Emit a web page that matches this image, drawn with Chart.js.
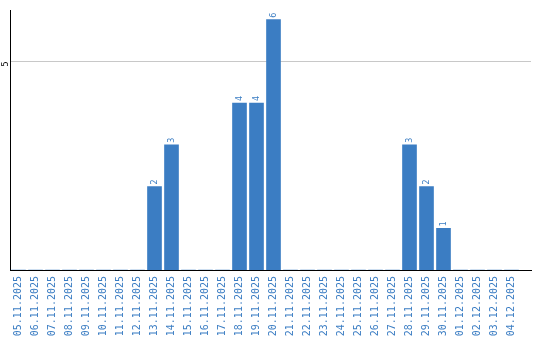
<!DOCTYPE html>
<html>
<head>
<meta charset="utf-8">
<script src="https://cdn.jsdelivr.net/npm/chart.js@4/dist/chart.umd.min.js"></script>
<style>
html,body{margin:0;padding:0;background:#fff;}
#wrap{width:540px;height:340px;position:relative;}
</style>
</head>
<body>
<div id="wrap"><canvas id="c" width="540" height="340"></canvas></div>
<script>
const dateLabels = ["05.11.2025","06.11.2025","07.11.2025","08.11.2025","09.11.2025","10.11.2025","11.11.2025","12.11.2025","13.11.2025","14.11.2025","15.11.2025","16.11.2025","17.11.2025","18.11.2025","19.11.2025","20.11.2025","21.11.2025","22.11.2025","23.11.2025","24.11.2025","25.11.2025","26.11.2025","27.11.2025","28.11.2025","29.11.2025","30.11.2025","01.12.2025","02.12.2025","03.12.2025","04.12.2025"];
const counts = [0,0,0,0,0,0,0,0,2,3,0,0,0,4,4,6,0,0,0,0,0,0,0,3,2,1,0,0,0,0];
const yTickValues = [5];

const BLUE = '#3b7dc3';

const valueLabels = {
  id: 'valueLabels',
  afterDatasetsDraw(chart) {
    const ctx = chart.ctx;
    const meta = chart.getDatasetMeta(0);
    ctx.save();
    ctx.fillStyle = BLUE;
    ctx.font = '8px "DejaVu Sans"';
    ctx.textAlign = 'left';
    ctx.textBaseline = 'middle';
    meta.data.forEach((bar, i) => {
      const v = counts[i];
      if (!v) return;
      ctx.save();
      ctx.translate(bar.x, bar.y - 2);
      ctx.rotate(-Math.PI / 2);
      ctx.fillText(String(v), 0, 0);
      ctx.restore();
    });
    ctx.restore();
  }
};

new Chart(document.getElementById('c'), {
  type: 'bar',
  data: {
    datasets: [{
      data: counts.map((v, i) => ({ x: i, y: v })),
      backgroundColor: BLUE,
      borderWidth: 0,
      barThickness: 14
    }]
  },
  options: {
    responsive: false,
    animation: false,
    layout: { padding: { top: 10.5, right: 9, left: 0, bottom: 0 } },
    plugins: { legend: { display: false }, tooltip: { enabled: false } },
    scales: {
      x: {
        type: 'linear',
        offset: false,
        min: -0.5,
        max: 30.147,
        grid: { display: false, drawTicks: false },
        border: { display: true, color: '#000', width: 1 },
        afterBuildTicks: (scale) => { scale.ticks = dateLabels.map((_, i) => ({ value: i })); },
        afterFit: (scale) => { scale.height = 70; scale.paddingLeft = 0; scale.paddingRight = 0; },
        ticks: {
          autoSkip: false,
          minRotation: 90,
          maxRotation: 90,
          padding: 6,
          color: BLUE,
          font: { family: '"DejaVu Sans Mono"', size: 10 },
          callback: (v) => dateLabels[v] !== undefined ? dateLabels[v] : ''
        }
      },
      y: {
        min: 0,
        max: 6.22,
        afterBuildTicks: (scale) => { scale.ticks = yTickValues.map(v => ({ value: v })); },
        afterFit: (scale) => { scale.width = 10; scale.paddingTop = 0; scale.paddingBottom = 0; },
        grid: { color: '#c8c8c8', drawTicks: false, lineWidth: 1 },
        border: { display: true, color: '#000', width: 1 },
        ticks: {
          minRotation: 90,
          maxRotation: 90,
          padding: 4,
          color: '#000',
          font: { family: '"DejaVu Sans"', size: 8 }
        }
      }
    }
  },
  plugins: [valueLabels]
});
</script>
</body>
</html>
